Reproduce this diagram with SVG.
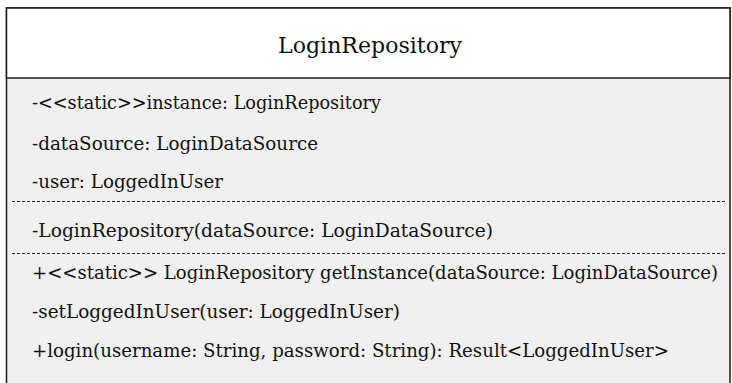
<svg xmlns="http://www.w3.org/2000/svg" width="732" height="383" viewBox="0 0 732 383">
<style>
.t{font-family:"DejaVu Serif","Liberation Serif",serif;font-size:18px;fill:#111}
.title{font-family:"DejaVu Serif","Liberation Serif",serif;font-size:23px;fill:#111}
.sep{stroke:#222;stroke-width:1;stroke-dasharray:3 2}
</style>
<rect width="732" height="383" fill="#ffffff"/>
<g id="LoginRepository">
<rect x="6.5" y="8" width="723.5" height="380" fill="#f0f0f0" stroke="#1a1a1a" stroke-width="1.5"/>
<rect x="6.5" y="8" width="723.5" height="70" fill="#ffffff" stroke="#1a1a1a" stroke-width="1.5"/>
<text class="title" x="370" y="53" text-anchor="middle" textLength="184" lengthAdjust="spacingAndGlyphs">LoginRepository</text>
<text class="t" x="32" y="109" textLength="349" lengthAdjust="spacingAndGlyphs">-&lt;&lt;static&gt;&gt;instance: LoginRepository</text>
<text class="t" x="32" y="150" textLength="286" lengthAdjust="spacingAndGlyphs">-dataSource: LoginDataSource</text>
<text class="t" x="32" y="188" textLength="191" lengthAdjust="spacingAndGlyphs">-user: LoggedInUser</text>
<line class="sep" x1="12" y1="201.5" x2="725" y2="201.5"/>
<text class="t" x="32" y="237" textLength="461" lengthAdjust="spacingAndGlyphs">-LoginRepository(dataSource: LoginDataSource)</text>
<line class="sep" x1="12" y1="253.5" x2="725" y2="253.5"/>
<text class="t" x="32" y="279" textLength="686" lengthAdjust="spacingAndGlyphs">+&lt;&lt;static&gt;&gt; LoginRepository getInstance(dataSource: LoginDataSource)</text>
<text class="t" x="32" y="318" textLength="368" lengthAdjust="spacingAndGlyphs">-setLoggedInUser(user: LoggedInUser)</text>
<text class="t" x="32" y="357" textLength="637" lengthAdjust="spacingAndGlyphs">+login(username: String, password: String): Result&lt;LoggedInUser&gt;</text>
</g>
<g id="connectors"/>
</svg>
